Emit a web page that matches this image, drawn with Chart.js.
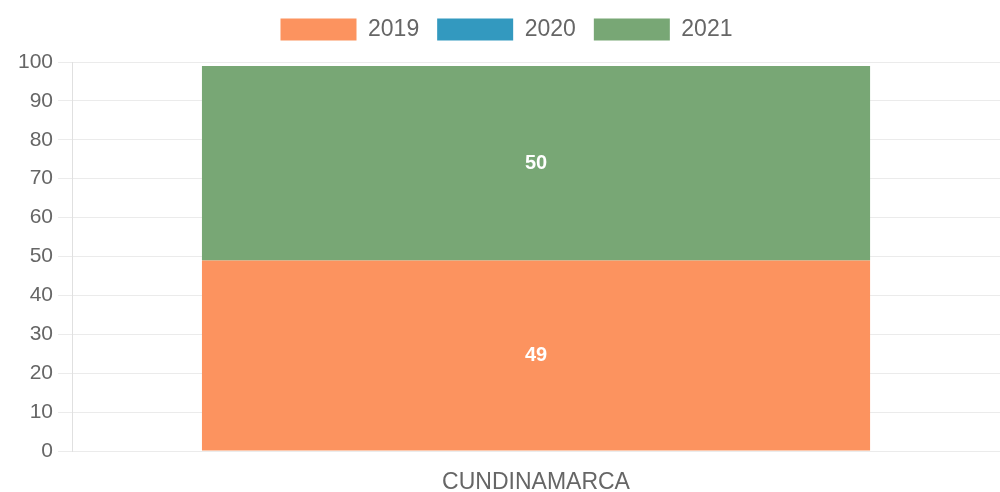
<!DOCTYPE html>
<html>
<head>
<meta charset="utf-8">
<script src="https://cdn.jsdelivr.net/npm/chart.js@4.4.0/dist/chart.umd.min.js"></script>
<style>
  html, body { margin: 0; padding: 0; background: #fff; }
  #wrap { width: 1000px; height: 492px; }
</style>
</head>
<body>
<div id="wrap"><canvas id="barChart"></canvas></div>
<script>
const categories = ['CUNDINAMARCA']
const years = ['2019', '2020', '2021']
const values2019 = [49]
const values2020 = [0]
const values2021 = [50]
const yTicks = [0, 10, 20, 30, 40, 50, 60, 70, 80, 90, 100]

const colors = ['#fc935f', '#3399bf', '#78a775']

// draws the white numbers inside each stacked piece
const barValueLabels = {
  id: 'barValueLabels',
  afterDatasetsDraw(chart) {
    const { ctx } = chart
    ctx.save()
    ctx.font = 'bold 20px "Liberation Sans", Arial, sans-serif'
    ctx.fillStyle = '#fff'
    ctx.textAlign = 'center'
    ctx.textBaseline = 'middle'
    chart.data.datasets.forEach((dataset, idx) => {
      chart.getDatasetMeta(idx).data.forEach((bar, index) => {
        const value = dataset.data[index]
        if (!value) return
        const { x, y, base } = bar.getProps(['x', 'y', 'base'], true)
        ctx.fillText(value, x, (y + base) / 2)
      })
    })
    ctx.restore()
  },
}

// a bit more room under the legend
const legendSpacing = {
  id: 'legendSpacing',
  beforeInit(chart) {
    const fit = chart.legend.fit
    chart.legend.fit = function () {
      fit.bind(chart.legend)()
      this.height += 11
    }
  },
}

Chart.defaults.font.family = '"Liberation Sans", Arial, sans-serif'
Chart.defaults.color = '#666'

new Chart(document.getElementById('barChart').getContext('2d'), {
  type: 'bar',
  data: {
    labels: categories,
    datasets: [
      { label: years[0], data: values2019, backgroundColor: colors[0] },
      { label: years[1], data: values2020, backgroundColor: colors[1] },
      { label: years[2], data: values2021, backgroundColor: colors[2] },
    ],
  },
  options: {
    responsive: true,
    maintainAspectRatio: false,
    animation: false,
    layout: { padding: { top: 0, right: 0, bottom: -22, left: 13 } },
    scales: {
      x: {
        stacked: true,
        grid: { display: false, drawTicks: false },
        border: { display: false },
        ticks: { font: { size: 23, lineHeight: 1 }, color: '#666', padding: 20 },
      },
      y: {
        stacked: true,
        min: yTicks[0],
        max: yTicks[yTicks.length - 1],
        afterBuildTicks: (axis) => {
          axis.ticks = yTicks.map((v) => ({ value: v }))
        },
        grid: { color: 'rgba(0,0,0,0.08)', tickLength: 14 },
        border: { color: 'rgba(0,0,0,0.12)' },
        ticks: { font: { size: 21 }, color: '#666', padding: 5 },
      },
    },
    plugins: {
      legend: {
        position: 'top',
        labels: {
          boxWidth: 76,
          boxHeight: 22,
          font: { size: 23 },
          color: '#666',
          padding: 18,
        },
      },
      tooltip: { enabled: false },
    },
  },
  plugins: [barValueLabels, legendSpacing],
})
</script>
</body>
</html>
